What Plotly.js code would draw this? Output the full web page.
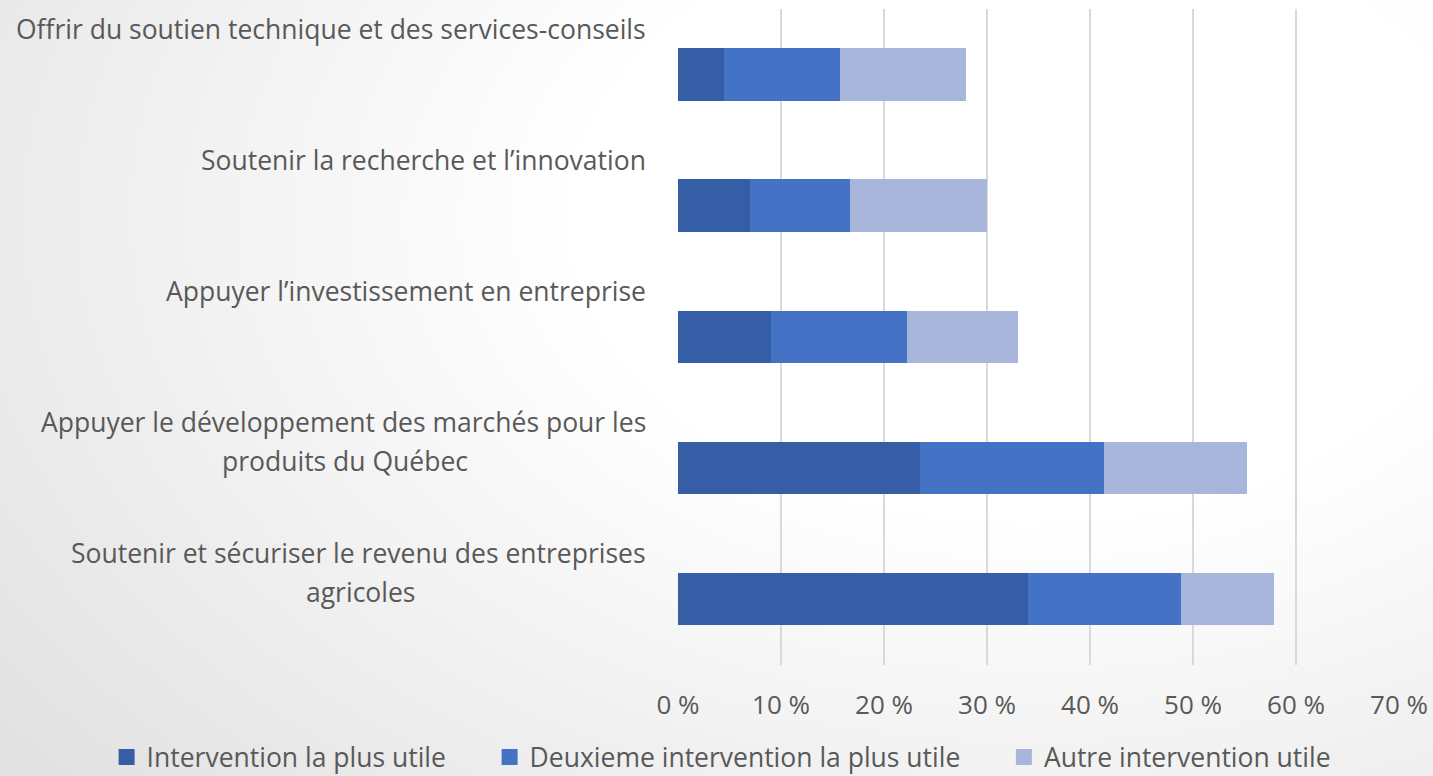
<!DOCTYPE html>
<html>
<head>
<meta charset="utf-8">
<script src="https://cdn.plot.ly/plotly-3.0.1.min.js"></script>
<style>
html,body{margin:0;padding:0;}
body{width:1433px;height:776px;overflow:hidden;
background: radial-gradient(ellipse 90% 110% at 72% 28%, #ffffff 35%, #f4f4f4 60%, #e2e2e2 100%);}
#chart{width:1433px;height:776px;}
</style>
</head>
<body>
<div id="chart"></div>
<script>
// Categories, top to bottom
const categories = [
  "Offrir du soutien technique et des services-conseils",
  "Soutenir la recherche et l’innovation",
  "Appuyer l’investissement en entreprise",
  "Appuyer le développement des marchés pour les\nproduits du Québec",
  "Soutenir et sécuriser le revenu des entreprises\nagricoles"
];
const seriesNames = ["Intervention la plus utile", "Deuxieme intervention la plus utile", "Autre intervention utile"];
const plusUtile   = [4.5, 7.0, 9.0, 23.5, 34.0];
const deuxieme    = [11.2, 9.7, 13.2, 17.9, 14.8];
const autre       = [12.3, 13.3, 10.8, 13.8, 9.1];
const tickVals    = [0, 10, 20, 30, 40, 50, 60, 70];

const colors = ["#355EA6", "#4472C4", "#A9B6DB"];
const FAMILY = "Open Sans";
const FONT = "'Open Sans', Lato, sans-serif";
const FS = 26.5;
const TXT = "#595959";

const catKeys = categories.map(c => c.replace("\n", " "));
const seriesVals = [plusUtile, deuxieme, autre];
const legendIds = ["legend", "legend2", "legend3"];
const traces = seriesVals.map((vals, i) => ({
  type: "bar",
  orientation: "h",
  name: seriesNames[i],
  x: vals,
  y: catKeys,
  marker: {color: colors[i], line: {width: 0}},
  showlegend: false,
  hoverinfo: "x+name"
}));
// legend-only entries (square swatches)
seriesNames.forEach((nm, i) => {
  traces.push({
    type: "scatter", mode: "markers",
    x: [null], y: [null],
    name: nm,
    legend: legendIds[i],
    marker: {symbol: "square", size: 16, color: colors[i]},
    showlegend: true, hoverinfo: "skip"
  });
});

// measure text width for centering multi-line labels
const cv = document.createElement("canvas").getContext("2d");
cv.font = FS + "px '" + FAMILY + "'";
const annotations = [];
categories.forEach((c, k) => {
  const lines = c.split("\n");
  const w0 = cv.measureText(lines[0]).width;
  lines.forEach((ln, i) => {
    annotations.push({
      xref: "paper", yref: "y",
      x: 0, y: catKeys[k],
      xanchor: i === 0 ? "right" : "center",
      xshift: i === 0 ? -30 : -30 - w0 / 2,
      yanchor: "middle",
      yshift: 46 - 39 * i,
      text: ln,
      showarrow: false,
      font: {family: FONT, size: FS, color: TXT}
    });
  });
});

function legendAt(x) {
  return {
    orientation: "h", xref: "paper", yref: "paper",
    x: x, xanchor: "left", y: -0.104, yanchor: "top",
    font: {family: FONT, size: FS, color: TXT},
    itemwidth: 30, bgcolor: "rgba(0,0,0,0)", borderwidth: 0
  };
}

const layout = {
  width: 1433, height: 776,
  paper_bgcolor: "rgba(0,0,0,0)",
  plot_bgcolor: "rgba(0,0,0,0)",
  barmode: "stack",
  bargap: 0.6,
  margin: {l: 678, r: 34, t: 9, b: 111, autoexpand: false},
  font: {family: FONT, size: FS, color: TXT},
  xaxis: {
    range: [0, 70],
    tickvals: tickVals,
    ticktext: tickVals.map(v => v + " %"),
    showgrid: true, gridcolor: "#d9d9d9", gridwidth: 1.5,
    zeroline: false, showline: false,
    ticks: "", ticklabelstandoff: 22,
    tickfont: {family: FONT, size: 26, color: TXT},
    fixedrange: true
  },
  yaxis: {
    type: "category",
    categoryorder: "array", categoryarray: catKeys,
    autorange: "reversed",
    showticklabels: false, showgrid: false, zeroline: false, showline: false,
    ticks: "", fixedrange: true
  },
  showlegend: true,
  legend: legendAt(-0.7925),
  legend2: legendAt(-0.2613),
  legend3: legendAt(0.4520),
  annotations: annotations
};

Plotly.newPlot("chart", traces, layout, {displayModeBar: false, staticPlot: true});
</script>
</body>
</html>
